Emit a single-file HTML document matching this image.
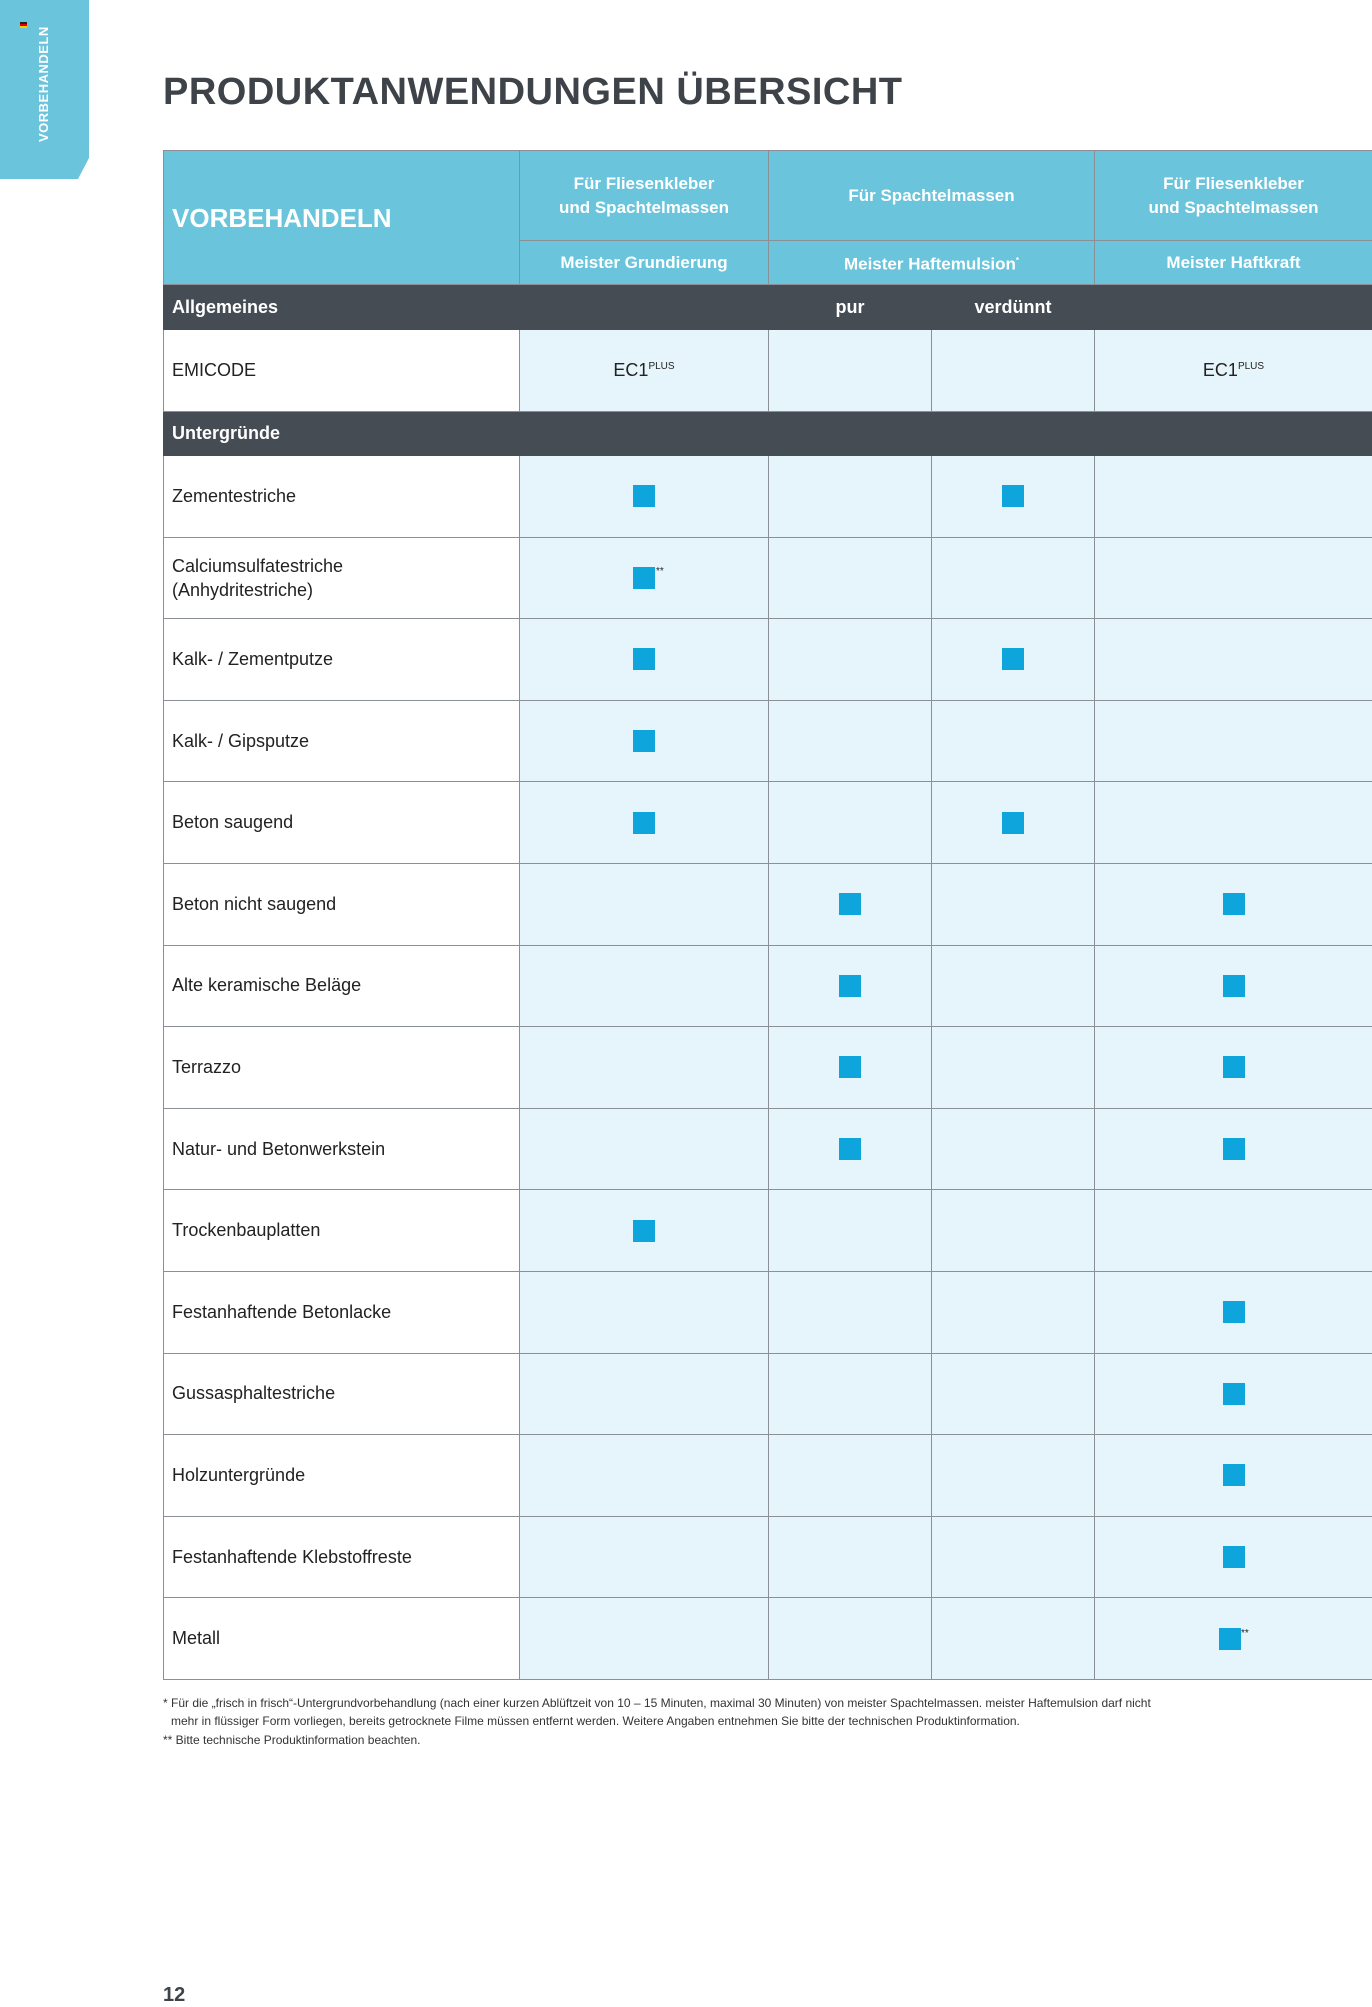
<!DOCTYPE html>
<html><head><meta charset="utf-8"><style>
*{margin:0;padding:0;box-sizing:border-box}
body{width:1372px;height:2000px;background:#fff;position:relative;overflow:hidden;font-family:"Liberation Sans",sans-serif;color:#222}
.side{position:absolute;left:0;top:0;width:89px;height:179px;background:#6ac4dc;clip-path:polygon(0 0,100% 0,100% 158px,78px 100%,0 100%)}
.side span{position:absolute;left:36px;top:142px;transform:rotate(-90deg);transform-origin:0 0;color:#fff;font-size:13px;font-weight:bold;letter-spacing:0.5px;white-space:nowrap}
.flag{position:absolute;left:20px;top:22px;width:7px;height:6px;background:linear-gradient(#222 33%,#d00 33% 66%,#fc0 66%)}
h1{position:absolute;left:163px;top:71px;font-size:38px;font-weight:bold;color:#3d4349;letter-spacing:0.5px}
table{position:absolute;left:163px;top:150px;border-collapse:collapse;table-layout:fixed;width:1209px}
td{border:1px solid #8a9096;position:relative;font-size:18px;vertical-align:middle}
.h{background:#6ac4dc;color:#fff;font-weight:bold;text-align:center;font-size:17px;line-height:24px}
.d td{background:#454c54;color:#fff;font-weight:bold;font-size:18px;border-color:#454c54}
.r td{background:#e6f4fb;height:81.6px}
.r td:first-child{background:#fff;padding-left:8px}
.sq{display:block;width:22px;height:22px;background:#0ea5dd;margin:0 auto}
.fn{position:absolute;left:163px;font-size:12px;color:#333}
</style></head><body>
<div class="side"><div class="flag"></div><span>VORBEHANDELN</span></div>
<h1>PRODUKTANWENDUNGEN ÜBERSICHT</h1>
<table>
<colgroup><col style="width:356px"><col style="width:249px"><col style="width:163px"><col style="width:163px"><col style="width:278px"></colgroup>
<tr style="height:90px"><td class="h" rowspan="2" style="text-align:left;padding-left:8px;font-size:26px">VORBEHANDELN</td><td class="h">Für Fliesenkleber<br>und Spachtelmassen</td><td class="h" colspan="2">Für Spachtelmassen</td><td class="h">Für Fliesenkleber<br>und Spachtelmassen</td></tr>
<tr style="height:44px"><td class="h">Meister Grundierung</td><td class="h" colspan="2">Meister Haftemulsion<sup style="font-size:8px">*</sup></td><td class="h">Meister Haftkraft</td></tr>
<tr class="d" style="height:45px"><td style="padding-left:8px">Allgemeines</td><td></td><td style="text-align:center">pur</td><td style="text-align:center">verdünnt</td><td></td></tr>
<tr class="r"><td style="height:82px">EMICODE</td><td style="text-align:center">EC1<sup style="font-size:10px">PLUS</sup></td><td></td><td></td><td style="text-align:center">EC1<sup style="font-size:10px">PLUS</sup></td></tr>
<tr class="d" style="height:44px"><td style="padding-left:8px" colspan="5">Untergründe</td></tr>
<tr class="r"><td>Zementestriche</td><td><i class="sq"></i></td><td></td><td><i class="sq"></i></td><td></td></tr>
<tr class="r"><td style="line-height:24px">Calciumsulfatestriche<br>(Anhydritestriche)</td><td><i class="sq"></i><span style="position:absolute;left:136px;top:28px;font-size:10px">**</span></td><td></td><td></td><td></td></tr>
<tr class="r"><td>Kalk- / Zementputze</td><td><i class="sq"></i></td><td></td><td><i class="sq"></i></td><td></td></tr>
<tr class="r"><td>Kalk- / Gipsputze</td><td><i class="sq"></i></td><td></td><td></td><td></td></tr>
<tr class="r"><td>Beton saugend</td><td><i class="sq"></i></td><td></td><td><i class="sq"></i></td><td></td></tr>
<tr class="r"><td>Beton nicht saugend</td><td></td><td><i class="sq"></i></td><td></td><td><i class="sq"></i></td></tr>
<tr class="r"><td>Alte keramische Beläge</td><td></td><td><i class="sq"></i></td><td></td><td><i class="sq"></i></td></tr>
<tr class="r"><td>Terrazzo</td><td></td><td><i class="sq"></i></td><td></td><td><i class="sq"></i></td></tr>
<tr class="r"><td>Natur- und Betonwerkstein</td><td></td><td><i class="sq"></i></td><td></td><td><i class="sq"></i></td></tr>
<tr class="r"><td>Trockenbauplatten</td><td><i class="sq"></i></td><td></td><td></td><td></td></tr>
<tr class="r"><td>Festanhaftende Betonlacke</td><td></td><td></td><td></td><td><i class="sq"></i></td></tr>
<tr class="r"><td>Gussasphaltestriche</td><td></td><td></td><td></td><td><i class="sq"></i></td></tr>
<tr class="r"><td>Holzuntergründe</td><td></td><td></td><td></td><td><i class="sq"></i></td></tr>
<tr class="r"><td>Festanhaftende Klebstoffreste</td><td></td><td></td><td></td><td><i class="sq"></i></td></tr>
<tr class="r"><td>Metall</td><td></td><td></td><td></td><td><i class="sq" style="margin-left:124px"></i><span style="position:absolute;left:146px;top:30px;font-size:10px">**</span></td></tr>
</table>
<div class="fn" style="top:1696px">* Für die „frisch in frisch“-Untergrundvorbehandlung (nach einer kurzen Ablüftzeit von 10 – 15 Minuten, maximal 30 Minuten) von meister Spachtelmassen. meister Haftemulsion darf nicht</div>
<div class="fn" style="top:1714px;left:171px">mehr in flüssiger Form vorliegen, bereits getrocknete Filme müssen entfernt werden. Weitere Angaben entnehmen Sie bitte der technischen Produktinformation.</div>
<div class="fn" style="top:1733px">** Bitte technische Produktinformation beachten.</div>
<div style="position:absolute;left:163px;top:1984px;font-size:20px;font-weight:bold;color:#3d4349">12</div>
</body></html>
